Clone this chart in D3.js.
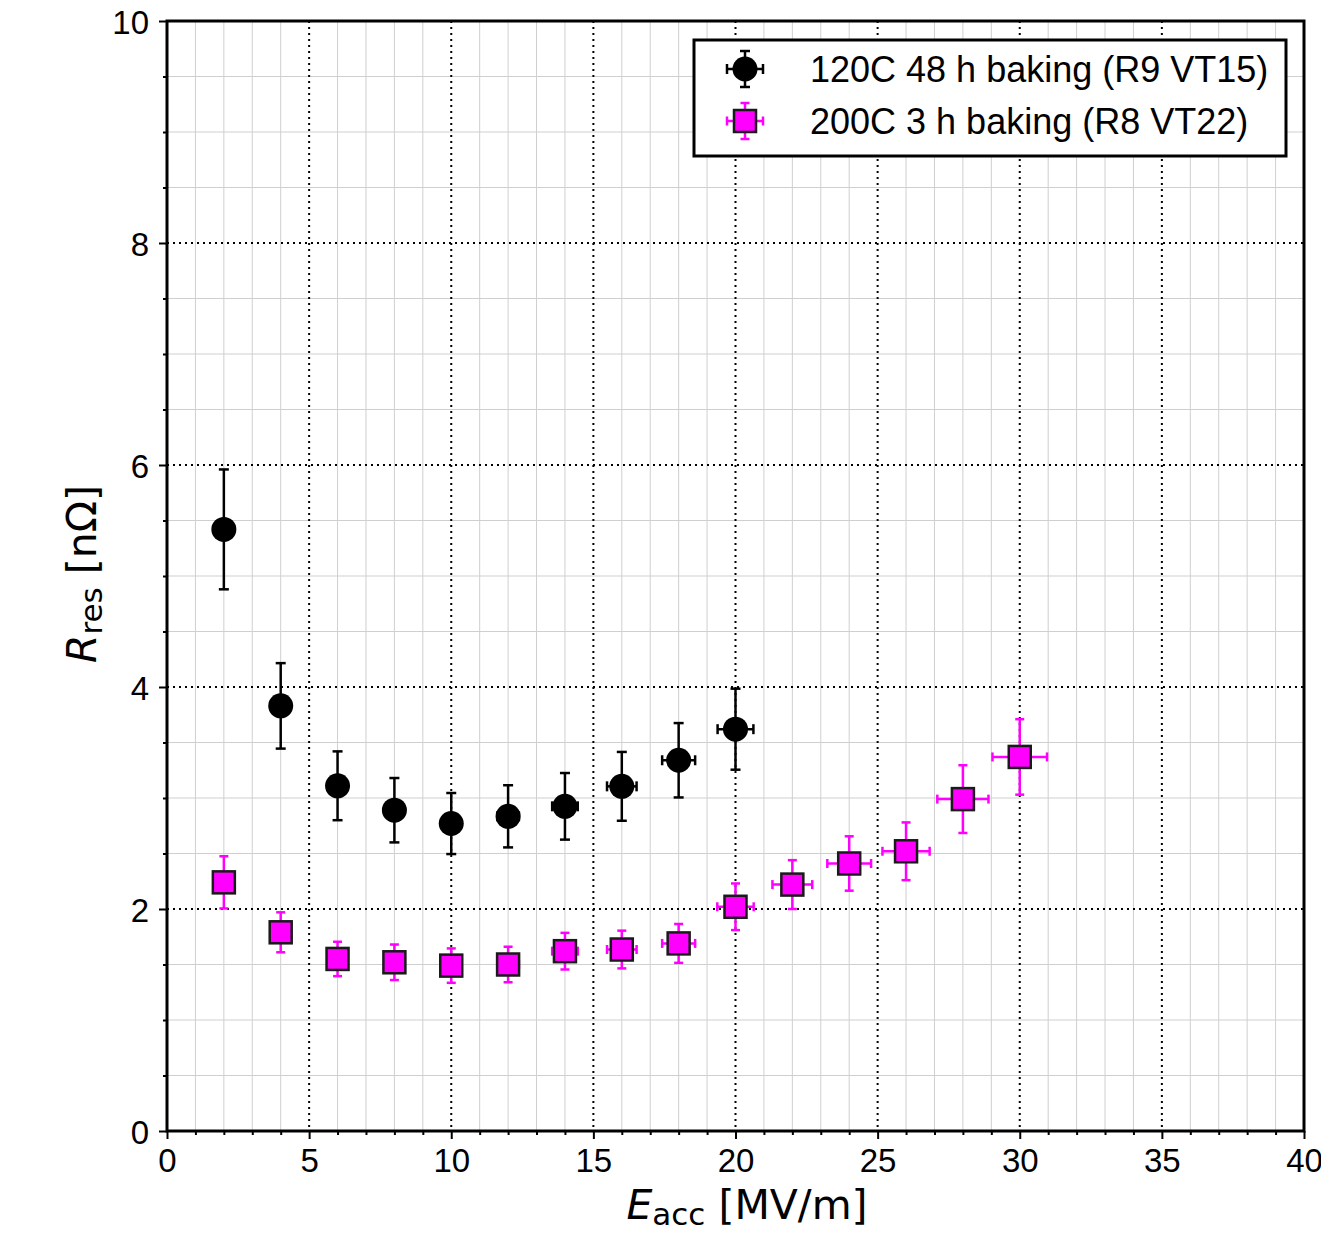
<!DOCTYPE html>
<html>
<head>
<meta charset="utf-8">
<script src="https://cdn.jsdelivr.net/npm/d3@7"></script>
<style>
  body { margin: 0; background: #fff; }
  svg text { fill: #000; }
</style>
</head>
<body>
<div id="chart"></div>
<script>
// 120C 48 h baking (R9 VT15)
const blackX = [2, 4, 6, 8, 10, 12, 14, 16, 18, 20];
const blackY = [5.42, 3.83, 3.11, 2.89, 2.77, 2.835, 2.925, 3.105, 3.34, 3.62];
const blackYErr = [0.54, 0.385, 0.31, 0.29, 0.275, 0.28, 0.30, 0.31, 0.335, 0.365];
const blackXErr = [0.06, 0.13, 0.19, 0.26, 0.32, 0.38, 0.45, 0.52, 0.58, 0.63];

// 200C 3 h baking (R8 VT22)
const magX = [2, 4, 6, 8, 10, 12, 14, 16, 18, 20, 22, 24, 26, 28, 30];
const magY = [2.24, 1.79, 1.55, 1.52, 1.49, 1.50, 1.62, 1.635, 1.69, 2.02, 2.22, 2.41, 2.52, 2.99, 3.37];
const magYErr = [0.235, 0.18, 0.155, 0.16, 0.155, 0.16, 0.165, 0.17, 0.175, 0.21, 0.22, 0.245, 0.26, 0.305, 0.34];
const magXErr = [0.06, 0.13, 0.19, 0.26, 0.32, 0.38, 0.45, 0.52, 0.58, 0.64, 0.70, 0.77, 0.83, 0.90, 0.96];

const legendLabels = ['120C 48 h baking (R9 VT15)', '200C 3 h baking (R8 VT22)'];
const xMajorTicks = [0, 5, 10, 15, 20, 25, 30, 35, 40];
const yMajorTicks = [0, 2, 4, 6, 8, 10];

const svgWidth = 1321;
const svgHeight = 1237;
const margin = { top: 21, bottom: 106, left: 167, right: 17 };
const width = svgWidth - margin.left - margin.right;
const height = svgHeight - margin.top - margin.bottom;
const labelFont = '"Liberation Sans", Arial, Helvetica, sans-serif';
const titleFont = '"DejaVu Sans", sans-serif';

const svg = d3.select('#chart').append('svg')
    .attr('width', svgWidth)
    .attr('height', svgHeight);
const g = svg.append('g')
    .attr('transform', 'translate(' + margin.left + ',' + margin.top + ')');

const x = d3.scaleLinear().domain([0, 40]).range([0, width]);
const y = d3.scaleLinear().domain([0, 10]).range([height, 0]);

const xMinor = d3.range(0, 41, 1).filter(v => v % 5 !== 0);
const yMinor = d3.range(0, 10.01, 0.5).filter(v => v % 2 !== 0);

// minor grid
g.append('g').selectAll('line').data(xMinor).enter().append('line')
    .attr('x1', d => x(d)).attr('x2', d => x(d))
    .attr('y1', 0).attr('y2', height)
    .attr('stroke', '#cfcfcf').attr('stroke-width', 1);
g.append('g').selectAll('line').data(yMinor).enter().append('line')
    .attr('y1', d => y(d)).attr('y2', d => y(d))
    .attr('x1', 0).attr('x2', width)
    .attr('stroke', '#cfcfcf').attr('stroke-width', 1);

// major grid (dotted)
g.append('g').selectAll('line').data(xMajorTicks.slice(1, -1)).enter().append('line')
    .attr('x1', d => x(d)).attr('x2', d => x(d))
    .attr('y1', 0).attr('y2', height)
    .attr('stroke', '#000').attr('stroke-width', 2).attr('stroke-dasharray', '2,4');
g.append('g').selectAll('line').data(yMajorTicks.slice(1, -1)).enter().append('line')
    .attr('y1', d => y(d)).attr('y2', d => y(d))
    .attr('x1', 0).attr('x2', width)
    .attr('stroke', '#000').attr('stroke-width', 2).attr('stroke-dasharray', '2,4');

// axes
const xAxis = d3.axisBottom(x).tickValues(xMajorTicks).tickSize(8).tickPadding(5).tickFormat(d3.format('d'));
const yAxis = d3.axisLeft(y).tickValues(yMajorTicks).tickSize(8).tickPadding(10).tickFormat(d3.format('d'));
const gX = g.append('g').attr('transform', 'translate(0,' + height + ')').call(xAxis);
const gY = g.append('g').call(yAxis);
g.append('g').attr('transform', 'translate(0,' + height + ')')
    .call(d3.axisBottom(x).tickValues(xMinor).tickSize(4).tickFormat(''));
g.append('g').call(d3.axisLeft(y).tickValues(yMinor).tickSize(4).tickFormat(''));
g.selectAll('.domain').remove();
g.selectAll('.tick line').attr('stroke', '#000').attr('stroke-width', 2);
[gX, gY].forEach(a => a.selectAll('text')
    .style('font-family', labelFont)
    .style('font-size', '33px'));
gX.selectAll('text').attr('dy', '0.85em');
gY.selectAll('text').attr('dy', '0.38em');

// frame
g.append('rect')
    .attr('x', 0).attr('y', 0).attr('width', width).attr('height', height)
    .attr('fill', 'none').attr('stroke', '#000').attr('stroke-width', 3);

// error bar helper
function errorBars(sel, xs, ys, xe, ye, color, cap) {
    const pts = xs.map((v, i) => ({ x: v, y: ys[i], xe: xe[i], ye: ye[i] }));
    const eb = sel.append('g').attr('stroke', color).attr('stroke-width', 2.5);
    pts.forEach(p => {
        const cx = x(p.x), cy = y(p.y);
        const t = y(p.y + p.ye), b = y(p.y - p.ye);
        const l = x(p.x - p.xe), r = x(p.x + p.xe);
        eb.append('line').attr('x1', cx).attr('x2', cx).attr('y1', t).attr('y2', b);
        eb.append('line').attr('x1', cx - cap).attr('x2', cx + cap).attr('y1', t).attr('y2', t);
        eb.append('line').attr('x1', cx - cap).attr('x2', cx + cap).attr('y1', b).attr('y2', b);
        eb.append('line').attr('x1', l).attr('x2', r).attr('y1', cy).attr('y2', cy);
        eb.append('line').attr('x1', l).attr('x2', l).attr('y1', cy - cap).attr('y2', cy + cap);
        eb.append('line').attr('x1', r).attr('x2', r).attr('y1', cy - cap).attr('y2', cy + cap);
    });
    return pts;
}

// black circles
const bPts = errorBars(g, blackX, blackY, blackXErr, blackYErr, '#000', 5);
g.append('g').selectAll('circle').data(bPts).enter().append('circle')
    .attr('cx', d => x(d.x)).attr('cy', d => y(d.y)).attr('r', 12.5)
    .attr('fill', '#000');

// magenta squares
const mPts = errorBars(g, magX, magY, magXErr, magYErr, '#ff00ff', 4.5);
g.append('g').selectAll('rect').data(mPts).enter().append('rect')
    .attr('x', d => x(d.x) - 11).attr('y', d => y(d.y) - 11)
    .attr('width', 22).attr('height', 22)
    .attr('fill', '#ff00ff').attr('stroke', '#1a1a1a').attr('stroke-width', 2.5);

// legend
const lg = svg.append('g');
lg.append('rect').attr('x', 694).attr('y', 40).attr('width', 592).attr('height', 116)
    .attr('fill', '#fff').attr('stroke', '#000').attr('stroke-width', 3);
const rows = [
    { y: 69, color: '#000', shape: 'circle', cap: 5 },
    { y: 121, color: '#ff00ff', shape: 'square', cap: 4.5 }
];
rows.forEach((r, i) => {
    const cx = 745;
    const e = lg.append('g').attr('stroke', r.color).attr('stroke-width', 2.5);
    e.append('line').attr('x1', cx).attr('x2', cx).attr('y1', r.y - 18).attr('y2', r.y + 18);
    e.append('line').attr('x1', cx - r.cap).attr('x2', cx + r.cap).attr('y1', r.y - 18).attr('y2', r.y - 18);
    e.append('line').attr('x1', cx - r.cap).attr('x2', cx + r.cap).attr('y1', r.y + 18).attr('y2', r.y + 18);
    e.append('line').attr('x1', cx - 18).attr('x2', cx + 18).attr('y1', r.y).attr('y2', r.y);
    e.append('line').attr('x1', cx - 18).attr('x2', cx - 18).attr('y1', r.y - r.cap).attr('y2', r.y + r.cap);
    e.append('line').attr('x1', cx + 18).attr('x2', cx + 18).attr('y1', r.y - r.cap).attr('y2', r.y + r.cap);
    if (r.shape === 'circle') {
        lg.append('circle').attr('cx', cx).attr('cy', r.y).attr('r', 12.5).attr('fill', '#000');
    } else {
        lg.append('rect').attr('x', cx - 11).attr('y', r.y - 11).attr('width', 22).attr('height', 22)
            .attr('fill', '#ff00ff').attr('stroke', '#1a1a1a').attr('stroke-width', 2.5);
    }
    lg.append('text').attr('x', 810).attr('y', r.y + 13)
        .style('font-family', labelFont)
        .style('font-size', '36px')
        .text(legendLabels[i]);
});

// axis titles
const xt = svg.append('text').attr('x', 747).attr('y', 1219)
    .attr('text-anchor', 'middle')
    .style('font-family', titleFont).style('font-size', '41px');
xt.append('tspan').style('font-style', 'italic').text('E');
xt.append('tspan').attr('dy', 6).style('font-size', '31px').text('acc');
xt.append('tspan').attr('dy', -6).text(' [MV/m]');

const yt = svg.append('text')
    .attr('transform', 'translate(96,574) rotate(-90)')
    .attr('text-anchor', 'middle')
    .style('font-family', titleFont).style('font-size', '41px');
yt.append('tspan').style('font-style', 'italic').text('R');
yt.append('tspan').attr('dy', 6).style('font-size', '31px').text('res');
yt.append('tspan').attr('dy', -6).text(' [nΩ]');
</script>
</body>
</html>
